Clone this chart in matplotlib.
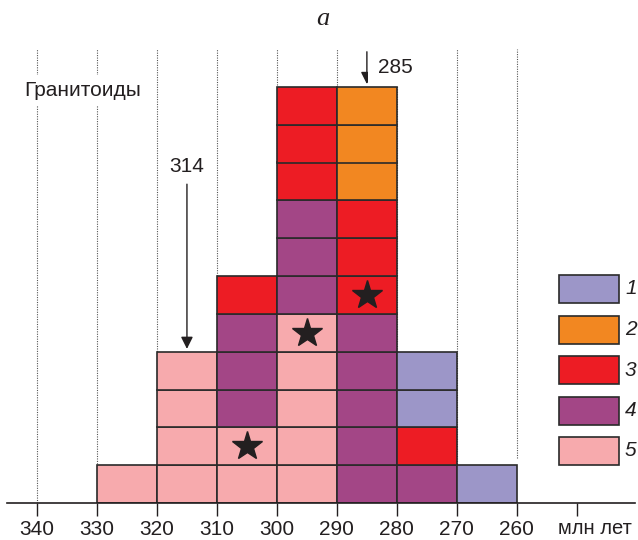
import matplotlib.pyplot as plt
from matplotlib.patches import Rectangle

plt.rcParams['font.family'] = ['Liberation Sans', 'DejaVu Sans']

# bins (left edge of each 10 Ma bin, older first)
bin_left = [330, 320, 310, 300, 290, 280, 270]
# counts of cells in each bin, per group (1..5)
g1 = [0, 0, 0, 0, 0, 2, 1]
g2 = [0, 0, 0, 0, 3, 0, 0]
g3 = [0, 0, 1, 3, 3, 1, 0]
g4 = [0, 0, 3, 3, 5, 1, 0]
g5 = [1, 4, 2, 5, 0, 0, 0]
groups = ['1', '2', '3', '4', '5']
colors = ['#9c96c8', '#f28721', '#ed1c24', '#a34686', '#f7aaad']

# stars: (age, cell row centre)
star_x = [305, 295, 285]
star_y = [1.5, 4.5, 5.5]

ticks = [340, 330, 320, 310, 300, 290, 280, 270, 260, 250]
tick_labels = ['340', '330', '320', '310', '300', '290', '280', '270', '260', '']

fig = plt.figure(figsize=(6.38, 5.4), dpi=100)
ax = fig.add_axes([7/638, 37/540, 628/638, 454/540])

# dotted grid lines
for t in ticks[:-1]:
	ymin = 1.2 if t == 260 else 0
	ax.plot([t, t], [ymin, 12], ls=(0, (1, 1.2)), lw=0.8, color='#555555', zorder=0)

# stack bottom-to-top: group 5, 4, 3, 2, 1
counts = [g1, g2, g3, g4, g5]
for i in range(len(bin_left)):
	level = 0
	for k in [4, 3, 2, 1, 0]:
		for c in range(counts[k][i]):
			ax.bar(bin_left[i], 1, width=-10, bottom=level, align='edge',
				color=colors[k], edgecolor='#2a2a2a', linewidth=1.2, zorder=2)
			level += 1

ax.plot(star_x, star_y, ls='none', marker='*', markersize=22, color='#231f20', zorder=3)

# arrows
ax.annotate('', xy=(315, 4.0), xytext=(315, 8.5),
	arrowprops=dict(arrowstyle='-|>', color='#231f20', lw=1, mutation_scale=18), zorder=4)
ax.text(315, 8.9, '314', ha='center', va='center', fontsize=15, color='#231f20')
ax.annotate('', xy=(285, 11.0), xytext=(285, 12.0),
	arrowprops=dict(arrowstyle='-|>', color='#231f20', lw=1, mutation_scale=18), zorder=4)
ax.text(283.2, 11.52, '285', ha='left', va='center', fontsize=15, color='#231f20',
	bbox=dict(facecolor='white', edgecolor='none', pad=7), zorder=4)

ax.text(332.3, 10.9, 'Гранитоиды', ha='center', va='center', fontsize=15, color='#231f20',
	bbox=dict(facecolor='white', edgecolor='none', pad=4), zorder=4)

ax.set_xlim(345, 240.3)
ax.set_ylim(0, 12)
for s in ['left', 'top', 'right']:
	ax.spines[s].set_visible(False)
ax.spines['bottom'].set_linewidth(1.2)
ax.spines['bottom'].set_color('#231f20')
ax.set_yticks([])
ax.set_xticks(ticks)
ax.set_xticklabels(tick_labels)
ax.tick_params(axis='x', direction='out', length=9, width=1, color='#231f20',
	labelsize=15, labelcolor='#231f20', pad=3)
fig.text(558/638, 1 - 528/540, 'млн лет', ha='left', va='center', fontsize=14.5,
	color='#231f20')

fig.text(323/638, 1 - 19/540, 'a', ha='center', va='center', fontsize=19,
	family='Liberation Serif', style='italic', color='#231f20')

# legend drawn as boxes
for k in range(5):
	top = 275 + 40.5 * k
	fig.patches.append(Rectangle((559/638, 1 - (top + 28)/540), 60/638, 28/540,
		transform=fig.transFigure, facecolor=colors[k], edgecolor='#2a2a2a', linewidth=1.2))
	fig.text(625/638, 1 - (top + 14)/540, groups[k], ha='left', va='center', fontsize=15,
		style='italic', color='#231f20')

plt.savefig('out.png')
